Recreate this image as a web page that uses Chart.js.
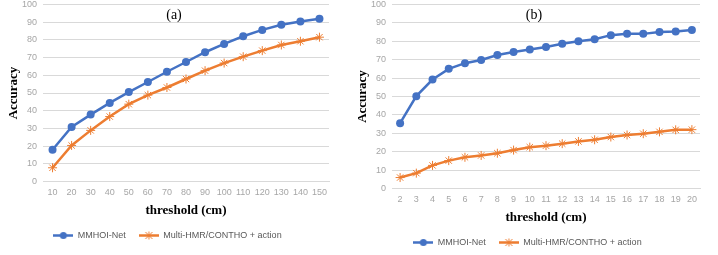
<!DOCTYPE html>
<html>
<head>
<meta charset="utf-8">
<script src="https://cdn.jsdelivr.net/npm/chart.js@4/dist/chart.umd.min.js"></script>
<style>
  body { margin: 0; background: #fff; width: 718px; height: 255px; overflow: hidden; position: relative; }
  .box { position: absolute; top: -7px; }
</style>
</head>
<body>
<div class="box" style="left:0px;width:340px;height:257px"><canvas id="chartA"></canvas></div>
<div class="box" style="left:349px;width:369px;height:264px"><canvas id="chartB"></canvas></div>
<script>
// panel (a): threshold 10..150 cm
const thresholdsA = ['10','20','30','40','50','60','70','80','90','100','110','120','130','140','150']
const mmhoiA = [18, 30.8, 37.8, 44.4, 50.5, 56.2, 62, 67.5, 73, 77.7, 82, 85.6, 88.5, 90.4, 91.9]
const baselineA = [7.8, 20.4, 28.9, 36.7, 43.7, 48.8, 53.1, 57.9, 62.6, 66.9, 70.5, 73.9, 77.1, 79.2, 81.5]

// panel (b): threshold 2..20 cm
const thresholdsB = ['2','3','4','5','6','7','8','9','10','11','12','13','14','15','16','17','18','19','20']
const mmhoiB = [35.5, 50.2, 59.2, 65, 68.1, 69.8, 72.5, 74.2, 75.5, 76.9, 78.6, 80, 81.1, 83.3, 84, 84, 85, 85.3, 86.1]
const baselineB = [6, 8.4, 12.6, 15.2, 17, 18, 19.2, 20.9, 22.5, 23.3, 24.4, 25.6, 26.5, 28, 29.1, 29.8, 30.8, 31.9, 32]

const seriesNames = ['MMHOI-Net', 'Multi-HMR/CONTHO + action']
const BLUE = '#4472C4'
const ORANGE = '#ED7D31'

// little line+marker icon like the excel legend
function legendIcon(color, style) {
    const c = document.createElement('canvas')
    c.width = 20
    c.height = 9
    const ctx = c.getContext('2d')
    ctx.strokeStyle = color
    ctx.fillStyle = color
    ctx.lineWidth = 2.5
    ctx.beginPath()
    ctx.moveTo(0, 4.5)
    ctx.lineTo(20, 4.5)
    ctx.stroke()
    if(style === 'circle') {
        ctx.beginPath()
        ctx.arc(10, 4.5, 3.5, 0, Math.PI * 2)
        ctx.fill()
    }
    else {
        ctx.lineWidth = 1
        ctx.beginPath()
        ctx.moveTo(6.5, 1); ctx.lineTo(13.5, 8)
        ctx.moveTo(13.5, 1); ctx.lineTo(6.5, 8)
        ctx.moveTo(10, 0.5); ctx.lineTo(10, 8.5)
        ctx.stroke()
    }
    return c
}
const icons = [legendIcon(BLUE, 'circle'), legendIcon(ORANGE, 'star')]

// panel letter written inside the plot area
const panelLabel = {
    id: 'panelLabel',
    afterDraw(chart, args, opts) {
        const a = chart.chartArea
        const ctx = chart.ctx
        ctx.save()
        ctx.font = '14px "Liberation Serif", serif'
        ctx.fillStyle = '#000'
        ctx.textAlign = 'center'
        ctx.textBaseline = 'middle'
        ctx.fillText(opts.text, (a.left + a.right) / 2 - 12, a.top + 11)
        ctx.restore()
    }
}

function makeChart(id, labels, blueData, orangeData, letter, padRight) {
    return new Chart(id, {
        type: 'line',
        data: {
            labels: labels,
            datasets: [{
                label: seriesNames[0],
                data: blueData,
                borderColor: BLUE,
                backgroundColor: BLUE,
                borderWidth: 2.5,
                pointStyle: 'circle',
                pointRadius: 4,
                pointBorderWidth: 0
            }, {
                label: seriesNames[1],
                data: orangeData,
                borderColor: ORANGE,
                backgroundColor: ORANGE,
                borderWidth: 2.5,
                pointStyle: 'star',
                pointRadius: 4.5,
                pointBorderWidth: 1
            }]
        },
        options: {
            responsive: true,
            maintainAspectRatio: false,
            animation: false,
            layout: { padding: { left: 6, right: padRight, top: 0, bottom: 0 } },
            plugins: {
                panelLabel: { text: letter },
                tooltip: { enabled: false },
                legend: {
                    position: 'bottom',
                    labels: {
                        usePointStyle: true,
                        pointStyleWidth: 20,
                        padding: 13,
                        color: '#595959',
                        font: { family: '"Liberation Sans", Arial, sans-serif', size: 9 },
                        generateLabels: (chart) => chart.data.datasets.map((ds, i) => ({
                            text: ds.label,
                            pointStyle: icons[i],
                            fontColor: '#595959',
                            datasetIndex: i,
                            hidden: false,
                            lineWidth: 0
                        }))
                    }
                }
            },
            scales: {
                x: {
                    offset: true,
                    grid: { display: false, drawTicks: false },
                    border: { color: '#d9d9d9' },
                    ticks: {
                        color: '#a6a6a6',
                        padding: 6,
                        maxRotation: 0,
                        autoSkip: false,
                        font: { family: '"Liberation Sans", Arial, sans-serif', size: 9 }
                    },
                    title: {
                        display: true,
                        text: 'threshold (cm)',
                        color: '#000',
                        padding: { top: -2, bottom: 0 },
                        font: { family: '"Liberation Serif", serif', size: 13, weight: 'bold' }
                    }
                },
                y: {
                    min: 0,
                    max: 100,
                    grid: { color: '#d9d9d9', drawTicks: false },
                    border: { display: false },
                    afterFit: (scale) => { scale.width = 37 },
                    ticks: {
                        stepSize: 10,
                        color: '#a6a6a6',
                        padding: 6,
                        font: { family: '"Liberation Sans", Arial, sans-serif', size: 9 }
                    },
                    title: {
                        display: true,
                        text: 'Accuracy',
                        color: '#000',
                        padding: { top: 0, bottom: 0 },
                        font: { family: '"Liberation Serif", serif', size: 13, weight: 'bold' }
                    }
                }
            }
        },
        plugins: [panelLabel]
    })
}

makeChart('chartA', thresholdsA, mmhoiA, baselineA, '(a)', 11)
makeChart('chartB', thresholdsB, mmhoiB, baselineB, '(b)', 18)
</script>
</body>
</html>
